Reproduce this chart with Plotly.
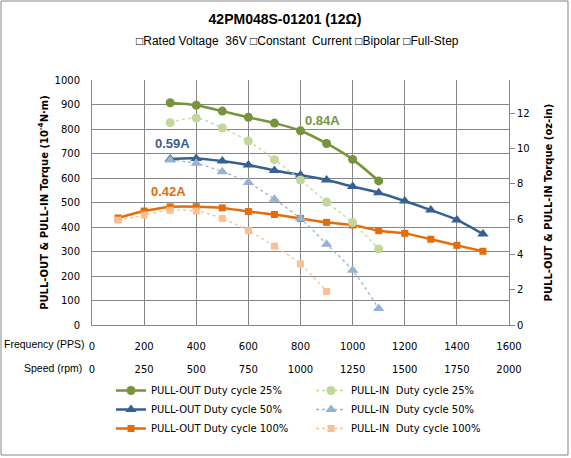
import plotly.graph_objects as go

# ---------------- data ----------------
freq_out25 = [300, 400, 500, 600, 700, 800, 900, 1000, 1100]
torque_out25 = [907, 897, 873, 848, 824, 793, 741, 676, 588]
freq_in25 = [300, 400, 500, 600, 700, 800, 900, 1000, 1100]
torque_in25 = [826, 845, 804, 751, 675, 592, 502, 418, 310]

freq_out50 = [300, 400, 500, 600, 700, 800, 900, 1000, 1100, 1200, 1300, 1400, 1500]
torque_out50 = [678, 680, 669, 653, 631, 612, 592, 565, 540, 506, 469, 429, 371]
freq_in50 = [300, 400, 500, 600, 700, 800, 900, 1000, 1100]
torque_in50 = [673, 660, 626, 582, 513, 435, 330, 223, 67]

freq_out100 = [100, 200, 300, 400, 500, 600, 700, 800, 900, 1000, 1100, 1200, 1300, 1400, 1500]
torque_out100 = [437, 465, 482, 483, 478, 463, 451, 435, 419, 408, 385, 374, 350, 325, 301]
freq_in100 = [100, 200, 300, 400, 500, 600, 700, 800, 900]
torque_in100 = [428, 449, 468, 465, 435, 385, 322, 249, 137]

freq_ticks = [0, 200, 400, 600, 800, 1000, 1200, 1400, 1600]
speed_ticks = [0, 250, 500, 750, 1000, 1250, 1500, 1750, 2000]
ozin_ticks = [0, 2, 4, 6, 8, 10, 12]

labels = [("0.84A", 886, 833, "#77933C"),
          ("0.59A", 307, 739, "#376092"),
          ("0.42A", 295, 543, "#E46C0A")]

# ---------------- figure ----------------
W, H = 571, 458
ML, MR, MT, MB = 92, 62, 80, 60
plot_bottom_px = 325
paper_h = H - MT - MB
ydom0 = (H - MB - plot_bottom_px) / paper_h

FONT = "DejaVu Sans"
GRID = "#878787"

fig = go.Figure()

series = [
    ("PULL-OUT Duty cycle 25%", freq_out25, torque_out25, "#77933C", "circle", 9, "solid", 2.5, 1),
    ("PULL-OUT Duty cycle 50%", freq_out50, torque_out50, "#376092", "triangle-up", 10, "solid", 2.5, 3),
    ("PULL-OUT Duty cycle 100%", freq_out100, torque_out100, "#E46C0A", "square", 7, "solid", 2.5, 5),
    ("PULL-IN\u00a0 Duty cycle 25%", freq_in25, torque_in25, "#C3D69B", "circle", 9, "3px,3px", 1.3, 2),
    ("PULL-IN\u00a0 Duty cycle 50%", freq_in50, torque_in50, "#95B3D7", "triangle-up", 10, "3px,3px", 1.3, 4),
    ("PULL-IN\u00a0 Duty cycle 100%", freq_in100, torque_in100, "#FAC090", "square", 7, "3px,3px", 1.3, 6),
]
for name, xs, ys, col, sym, msz, dash, lw, rank in series:
    fig.add_trace(go.Scatter(
        x=xs, y=ys, name=name, mode="lines+markers",
        line=dict(color=col, width=lw, dash=dash, shape="spline", smoothing=0.8),
        marker=dict(color=col, symbol=sym, size=msz),
        legendrank=rank, xaxis="x", yaxis="y"))

# invisible traces to activate secondary axes
fig.add_trace(go.Scatter(x=[0, 2000], y=[None, None], xaxis="x2", yaxis="y",
                         showlegend=False, hoverinfo="skip"))
fig.add_trace(go.Scatter(x=[0, 1600], y=[None, None], xaxis="x", yaxis="y2",
                         showlegend=False, hoverinfo="skip"))

for txt, x, y, col in labels:
    fig.add_annotation(x=x, y=y, xref="x", yref="y", text="<b>%s</b>" % txt,
                       xanchor="center", yanchor="middle",
                       showarrow=False, font=dict(family="Liberation Sans", size=13, color=col))

fig.update_layout(
    template="none",
    width=W, height=H,
    margin=dict(l=ML, r=MR, t=MT, b=MB, pad=0, autoexpand=False),
    paper_bgcolor="white", plot_bgcolor="white",
    font=dict(family=FONT, size=10, color="black"),
    title=dict(text="<b>42PM048S-01201 (12Ω)</b>", x=285 / W, xanchor="center",
               xref="container", y=1 - 19 / H, yanchor="middle", yref="container",
               font=dict(family="Liberation Sans", size=14, color="black")),
    xaxis=dict(range=[0, 1600], tickvals=freq_ticks, showgrid=True, gridcolor=GRID, gridwidth=1,
               showline=True, linecolor=GRID, linewidth=1, zeroline=False, automargin=False,
               ticks="outside", ticklen=12, tickcolor="rgba(0,0,0,0)",
               tickfont=dict(family=FONT, size=10), anchor="y", domain=[0, 1]),
    xaxis2=dict(range=[0, 2000], tickvals=speed_ticks, overlaying="x", side="bottom",
                anchor="free", position=ydom0, showgrid=False, showline=False, zeroline=False,
                automargin=False, ticks="outside", ticklen=35, tickcolor="rgba(0,0,0,0)",
                tickfont=dict(family=FONT, size=10)),
    yaxis=dict(range=[0, 1000], tickvals=list(range(0, 1001, 100)), showgrid=True,
               gridcolor=GRID, gridwidth=1, showline=True, linecolor=GRID, linewidth=1,
               zeroline=False, automargin=False, ticks="outside", ticklen=9,
               tickcolor="rgba(0,0,0,0)",
               domain=[ydom0, 1], tickfont=dict(family=FONT, size=10),
               title=dict(text="<b>PULL-OUT & PULL-IN Torque (10<sup>-4</sup>N·m)</b>",
                          standoff=4, font=dict(family=FONT, size=10))),
    yaxis2=dict(range=[0, 13.87], tickvals=ozin_ticks, overlaying="y", side="right",
                anchor="x", showgrid=False, showline=True, linecolor=GRID, linewidth=1,
                zeroline=False, automargin=False, ticks="outside", ticklen=5, tickcolor=GRID,
                tickfont=dict(family=FONT, size=10),
                title=dict(text="<b>PULL-OUT & PULL-IN Torque (oz-in)</b>",
                           standoff=16, font=dict(family=FONT, size=10))),
    legend=dict(orientation="h", x=(111 - ML) / (W - ML - MR), xanchor="left",
                y=(H - MB - 376) / paper_h, yanchor="top",
                entrywidth=155, entrywidthmode="pixels",
                font=dict(family=FONT, size=10), bgcolor="rgba(0,0,0,0)",
                tracegroupgap=0, itemwidth=30),
    showlegend=True,
)

pw = W - ML - MR
def px_x(p):
    return (p - ML) / pw
def px_y(p):
    return (H - MB - p) / paper_h

# subtitle
fig.add_annotation(xref="paper", yref="paper", x=px_x(297), y=px_y(41),
                   xanchor="center", yanchor="middle",
                   text="□Rated Voltage\u00a0 36V □Constant\u00a0 Current □Bipolar □Full-Step",
                   showarrow=False, font=dict(family="Liberation Sans", size=12, color="black"))
# axis row labels
fig.add_annotation(xref="paper", yref="paper", x=px_x(87), y=px_y(344), xanchor="right",
                   yanchor="middle", text="Frequency (PPS)", showarrow=False,
                   font=dict(family="Liberation Sans", size=10.5, color="black"))
fig.add_annotation(xref="paper", yref="paper", x=px_x(84), y=px_y(368), xanchor="right",
                   yanchor="middle", text="Speed (rpm)", showarrow=False,
                   font=dict(family="Liberation Sans", size=10.5, color="black"))

# outer border
fig.add_shape(type="rect", xref="paper", yref="paper",
              x0=px_x(1), x1=px_x(568), y0=px_y(455), y1=px_y(1),
              line=dict(color="#868686", width=1), fillcolor="rgba(0,0,0,0)", layer="below")

fig.write_html("out.html", config={"displayModeBar": False},
               post_script="document.body.style.margin='0';")
